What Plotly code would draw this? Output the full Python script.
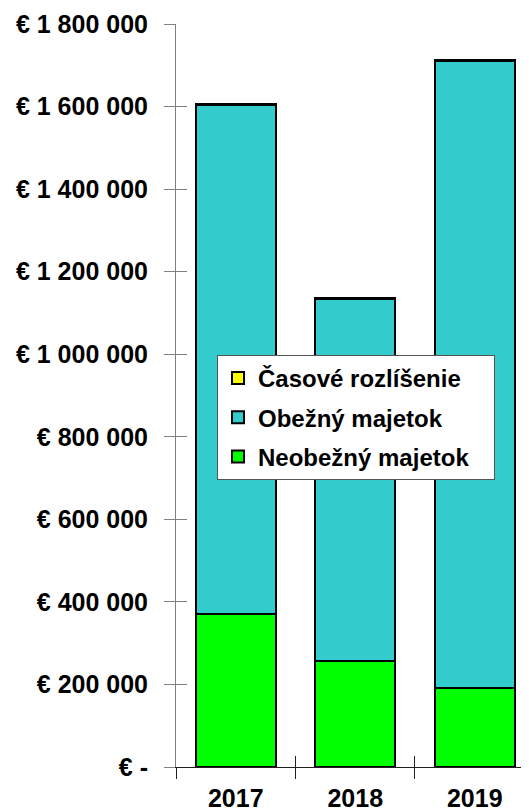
import plotly.graph_objects as go

years = ["2017", "2018", "2019"]
neobezny = [370000, 257000, 191000]
obezny = [1233000, 876000, 1519000]
casove = [2500, 2500, 2500]

y_tickvals = [0, 200000, 400000, 600000, 800000, 1000000, 1200000, 1400000, 1600000, 1800000]
y_ticktext = ["€ -", "€ 200 000", "€ 400 000", "€ 600 000", "€ 800 000",
              "€ 1 000 000", "€ 1 200 000", "€ 1 400 000", "€ 1 600 000", "€ 1 800 000"]

FONT = "Liberation Sans, Arial, sans-serif"
outline = dict(color="black", width=2)
PAD = "\u00a0\u00a0\u00a0"

fig = go.Figure()
fig.add_trace(go.Bar(x=years, y=neobezny, name="Neobežný majetok" + PAD,
                     marker=dict(color="#00FF00", line=outline), width=0.67,
                     legendgroup="c", legendrank=3, hoverinfo="skip"))
fig.add_trace(go.Bar(x=years, y=obezny, name="Obežný majetok",
                     marker=dict(color="#33CCCC", line=outline), width=0.67,
                     legendgroup="b", legendrank=2, hoverinfo="skip"))
fig.add_trace(go.Bar(x=years, y=casove, name="Časové rozlíšenie",
                     marker=dict(color="#FFFF00", line=outline), width=0.67,
                     legendgroup="a", legendrank=1, hoverinfo="skip"))
# invisible trace for overlay axes (inside tick halves)
fig.add_trace(go.Scatter(x=years, y=[None, None, None], xaxis="x2", yaxis="y2",
                         showlegend=False, hoverinfo="skip", mode="markers"))

xr = [-0.5, 2.521]
yr = [0, 1800000]

fig.update_layout(
    width=529, height=812,
    margin=dict(l=168, r=0, t=16, b=53),
    paper_bgcolor="white", plot_bgcolor="white",
    barmode="stack", bargap=0.33,
    showlegend=True,
    legend=dict(x=0.1136, y=0.5545, xanchor="left", yanchor="top",
                bgcolor="white", bordercolor="#555555", borderwidth=1,
                traceorder="grouped", tracegroupgap=5,
                font=dict(family=FONT, size=24, color="black", weight="bold")),
    xaxis=dict(type="category", categoryorder="array", categoryarray=years,
               range=xr, showline=True, linecolor="#202020", linewidth=1,
               ticks="outside", ticklen=11, tickcolor="#202020", tickson="boundaries",
               showgrid=False, zeroline=False, ticklabelstandoff=9,
               tickfont=dict(family=FONT, size=25, color="black", weight="bold")),
    yaxis=dict(range=yr, tickvals=y_tickvals, ticktext=y_ticktext,
               showline=True, linecolor="#808080", linewidth=1,
               ticks="outside", ticklen=11, tickcolor="#808080",
               showgrid=False, zeroline=False, ticklabelstandoff=11,
               tickfont=dict(family=FONT, size=25, color="black", weight="bold")),
    xaxis2=dict(type="category", categoryorder="array", categoryarray=years,
                overlaying="x", range=xr, ticks="inside", ticklen=11,
                tickcolor="#202020", tickson="boundaries", showticklabels=False,
                showline=False, showgrid=False, zeroline=False),
    yaxis2=dict(overlaying="y", range=yr, tickvals=y_tickvals, ticks="inside",
                ticklen=11, tickcolor="#808080", showticklabels=False,
                showline=False, showgrid=False, zeroline=False),
)

fig.write_html("out.html")
